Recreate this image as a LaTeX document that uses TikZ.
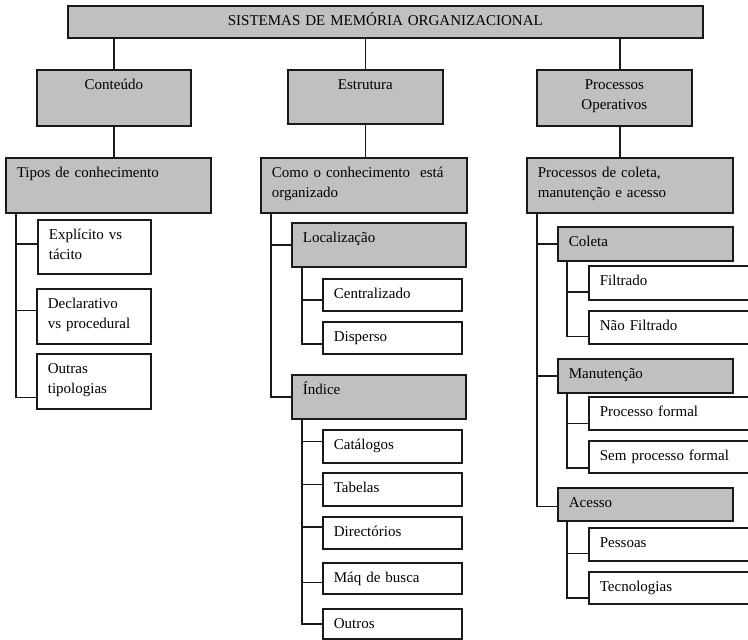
\documentclass[tikz,border=0pt]{standalone}
\usepackage{fontspec}
\setmainfont{Liberation Serif}
\usepackage{tikz}
\definecolor{boxgray}{RGB}{192,192,192}
\newcommand{\boxfont}{\fontsize{15}{19.5}\selectfont}
\tikzset{
  cellbox/.style={draw=black!90, line width=1.7pt, rectangle, anchor=north west,
    inner xsep=11pt, inner ysep=0pt, text height=20pt, align=left, font=\boxfont},
  graybox/.style={cellbox, fill=boxgray},
  link/.style={draw=black!90, line width=1.7pt}
}
% #1 style, #2 name, #3 x1, #4 y1, #5 x2, #6 y2, #7 text
\newcommand{\cellnode}[7]{\node[#1, text width={(#5-#3)*1pt-22pt}, text depth={(#6-#4)*1pt-20pt}] (#2) at (#3,#4) {#7};}

\begin{document}
\begin{tikzpicture}[x=1pt, y=-1pt]
        \useasboundingbox (0,0) rectangle (748,640);
        \clip (0,0) rectangle (748,640);
        % title
        \cellnode{graybox, align=center}{title}{67}{5}{702}{37}{SISTEMAS DE MEMÓRIA ORGANIZACIONAL}
        % level 1
        \cellnode{graybox, align=center}{cont}{36}{69}{190}{125}{Conteúdo}
        \cellnode{graybox, align=center}{estr}{287}{69}{442}{123}{Estrutura}
        \cellnode{graybox, align=center}{proc}{536}{69}{691}{125}{Processos\\Operativos}
        % level 2
        \cellnode{graybox}{tipos}{5}{157}{210}{212}{Tipos de conhecimento}
        \cellnode{graybox}{como}{260}{157}{466}{212}{Como o conhecimento ~está\\organizado}
        \cellnode{graybox}{pcol}{526}{157}{732}{212}{Processos de coleta,\\manutenção e acesso}
        % column 1
        \cellnode{cellbox}{expl}{37}{219}{150}{273}{Explícito vs\\tácito}
        \cellnode{cellbox}{decl}{36}{288}{150}{343}{Declarativo\\vs procedural}
        \cellnode{cellbox}{outr}{36}{353}{150}{408}{Outras\\tipologias}
        % column 2
        \cellnode{graybox}{loc}{291}{222}{465}{266}{Localização}
        \cellnode{cellbox}{cent}{322}{278}{461}{310}{Centralizado}
        \cellnode{cellbox}{disp}{322}{321}{461}{353}{Disperso}
        \cellnode{graybox}{ind}{291}{374}{465}{418}{Índice}
        \cellnode{cellbox}{cat}{322}{429}{461}{462}{Catálogos}
        \cellnode{cellbox}{tab}{322}{472}{461}{505}{Tabelas}
        \cellnode{cellbox}{dir}{322}{516}{461}{548}{Directórios}
        \cellnode{cellbox}{maq}{322}{562}{461}{593}{Máq de busca}
        \cellnode{cellbox}{outros}{322}{608}{461}{638}{Outros}
        % column 3
        \cellnode{graybox}{col}{557}{226}{732}{260}{Coleta}
        \cellnode{cellbox}{filt}{588}{265}{752}{299}{Filtrado}
        \cellnode{cellbox}{nfilt}{588}{310}{752}{343}{Não Filtrado}
        \cellnode{graybox}{man}{557}{358}{732}{392}{Manutenção}
        \cellnode{cellbox}{pform}{588}{396}{752}{429}{Processo formal}
        \cellnode{cellbox}{sform}{588}{440}{752}{472}{Sem processo formal}
        \cellnode{graybox}{aces}{557}{487}{732}{520}{Acesso}
        \cellnode{cellbox}{pess}{588}{527}{752}{560}{Pessoas}
        \cellnode{cellbox}{tec}{588}{571}{752}{603}{Tecnologias}
        % title to level 1
        \draw[link] (title.south -| cont.north) -- (cont.north);
        \draw[link] (title.south -| estr.north) -- (estr.north);
        \draw[link] ([xshift=5.5pt]proc.north |- title.south) -- ([xshift=5.5pt]proc.north);
        % level 1 to level 2
        \draw[link] (cont.south) -- (cont.south |- tipos.north);
        \draw[link] (estr.south) -- (estr.south |- como.north);
        \draw[link] ([xshift=5.5pt]proc.south) -- ([xshift=5.5pt]proc.south |- pcol.north);
        % column 1 branches
        \draw[link] ([xshift=11pt]tipos.south west) |- ([yshift=3pt]expl.west);
        \draw[link] ([xshift=11pt]tipos.south west) |- ([yshift=6pt]decl.west);
        \draw[link] ([xshift=11pt]tipos.south west) |- ([yshift=-16pt]outr.west);
        % column 2 branches
        \draw[link] ([xshift=11pt]como.south west) |- (loc.west);
        \draw[link] ([xshift=11pt]como.south west) |- (ind.west);
        \draw[link] ([xshift=11pt]loc.south west) |- ([yshift=-5pt]cent.west);
        \draw[link] ([xshift=11pt]loc.south west) |- ([yshift=-6pt]disp.west);
        \draw[link] ([xshift=11pt]ind.south west) |- ([yshift=5pt]cat.west);
        \draw[link] ([xshift=11pt]ind.south west) |- ([yshift=5pt]tab.west);
        \draw[link] ([xshift=11pt]ind.south west) |- ([yshift=6pt]dir.west);
        \draw[link] ([xshift=11pt]ind.south west) |- ([yshift=-4pt]maq.west);
        \draw[link] ([xshift=11pt]ind.south west) |- (outros.west);
        % column 3 branches
        \draw[link] ([xshift=11pt]pcol.south west) |- (col.west);
        \draw[link] ([xshift=11pt]pcol.south west) |- (man.west);
        \draw[link] ([xshift=11pt]pcol.south west) |- ([yshift=-2pt]aces.west);
        \draw[link] ([xshift=10pt]col.south west) |- ([yshift=-9pt]filt.west);
        \draw[link] ([xshift=10pt]col.south west) |- ([yshift=-9pt]nfilt.west);
        \draw[link] ([xshift=10pt]man.south west) |- ([yshift=-10pt]pform.west);
        \draw[link] ([xshift=10pt]man.south west) |- ([yshift=-11pt]sform.west);
        \draw[link] ([xshift=10pt]aces.south west) |- ([yshift=-9pt]pess.west);
        \draw[link] ([xshift=10pt]aces.south west) |- ([yshift=-10pt]tec.west);
\end{tikzpicture}
\end{document}
